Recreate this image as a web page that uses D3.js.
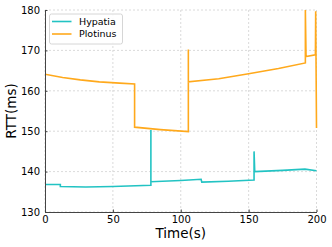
<!DOCTYPE html>
<html>
<head>
<meta charset="utf-8">
<script src="https://cdn.jsdelivr.net/npm/d3@7"></script>
<style>
  body { margin: 0; background: #fff; }
  text { font-family: "DejaVu Sans", sans-serif; fill: #000; }
</style>
</head>
<body>
<div id="chart"></div>
<script>
// values (time in s, rtt in ms)
const hypatiaTime = [0, 11.3, 11.3, 30, 50, 78, 78, 78, 100, 115, 115.5, 135, 154, 154, 154.5, 175, 191.5, 200];
const hypatiaRtt  = [136.8, 136.8, 136.3, 136.2, 136.3, 136.6, 150.3, 137.5, 137.8, 138.1, 137.4, 137.6, 137.9, 145, 140.0, 140.3, 140.6, 140.2];

const plotinusTime = [0, 13, 26, 40, 55, 66, 66, 85, 105.6, 105.6, 105.6, 128, 150, 172, 191.8, 191.8, 192.3, 199.2, 199.4, 200];
const plotinusRtt  = [164.1, 163.3, 162.7, 162.2, 161.9, 161.7, 151.0, 150.4, 149.9, 170.2, 162.2, 163.0, 164.2, 165.5, 166.9, 180, 168.5, 168.9, 179.7, 150.8];

const seriesNames = ["Hypatia", "Plotinus"];
const seriesColors = ["#22c3c3", "#ffa91c"];
const xTicks = [0, 50, 100, 150, 200];
const yTicks = [130, 140, 150, 160, 170, 180];

const width = 332, height = 247;
const margin = {left: 45, right: 15.5, top: 10, bottom: 35};

const x = d3.scaleLinear().domain([0, 200]).range([margin.left, width - margin.right]);
const y = d3.scaleLinear().domain([130, 180]).range([height - margin.bottom, margin.top]);

const svg = d3.select("#chart").append("svg")
  .attr("width", width)
  .attr("height", height);

// grid
svg.append("g")
  .selectAll("line.v")
  .data(xTicks)
  .join("line")
  .attr("x1", d => x(d)).attr("x2", d => x(d))
  .attr("y1", y(130)).attr("y2", y(180))
  .attr("stroke", "#d0d0d0")
  .attr("stroke-width", 0.8)
  .attr("stroke-dasharray", "2,2");

svg.append("g")
  .selectAll("line.h")
  .data(yTicks)
  .join("line")
  .attr("x1", x(0)).attr("x2", x(200))
  .attr("y1", d => y(d)).attr("y2", d => y(d))
  .attr("stroke", "#d0d0d0")
  .attr("stroke-width", 0.8)
  .attr("stroke-dasharray", "2,2");

svg.append("clipPath").attr("id", "clip")
  .append("rect")
  .attr("x", x(0)).attr("y", y(180) - 1)
  .attr("width", x(200) - x(0) + 2).attr("height", y(130) - y(180) + 1);

const line = d3.line().x(d => x(d[0])).y(d => y(d[1]));

const series = [
  d3.zip(hypatiaTime, hypatiaRtt),
  d3.zip(plotinusTime, plotinusRtt)
];

svg.append("g")
  .attr("clip-path", "url(#clip)")
  .selectAll("path")
  .data(series)
  .join("path")
  .attr("d", line)
  .attr("fill", "none")
  .attr("stroke", (d, i) => seriesColors[i])
  .attr("stroke-width", 1.6)
  .attr("stroke-linejoin", "miter");

// axes
const xAxis = svg.append("g")
  .attr("transform", `translate(0,${y(130)})`)
  .call(d3.axisBottom(x).tickValues(xTicks).tickSizeInner(-2.5).tickSizeOuter(0).tickPadding(3.5));
const yAxis = svg.append("g")
  .attr("transform", `translate(${x(0)},0)`)
  .call(d3.axisLeft(y).tickValues(yTicks).tickSizeInner(-2.5).tickSizeOuter(0).tickPadding(5));

for (const ax of [xAxis, yAxis]) {
  ax.select(".domain").attr("stroke", "#444").attr("stroke-width", 1);
  ax.selectAll(".tick line").attr("stroke", "#444");
  ax.selectAll(".tick text").attr("font-size", 10).attr("fill", "#000");
}

svg.append("text")
  .attr("x", (x(0) + x(200)) / 2)
  .attr("y", 238)
  .attr("text-anchor", "middle")
  .attr("font-size", 13.5)
  .text("Time(s)");

svg.append("text")
  .attr("transform", `translate(16,${(y(130) + y(180)) / 2}) rotate(-90)`)
  .attr("text-anchor", "middle")
  .attr("font-size", 13.5)
  .text("RTT(ms)");

// legend
const legend = svg.append("g").attr("transform", "translate(49.5,14)");
legend.append("rect")
  .attr("width", 73).attr("height", 30)
  .attr("rx", 2)
  .attr("fill", "#fff")
  .attr("fill-opacity", 0.85)
  .attr("stroke", "#ccc")
  .attr("stroke-width", 0.8);

const item = legend.selectAll("g.item")
  .data(seriesNames)
  .join("g")
  .attr("transform", (d, i) => `translate(0,${7.5 + i * 12.5})`);
item.append("line")
  .attr("x1", 2.5).attr("x2", 22)
  .attr("stroke", (d, i) => seriesColors[i])
  .attr("stroke-width", 1.6);
item.append("text")
  .attr("x", 29.5)
  .attr("dy", "0.35em")
  .attr("font-size", 9.5)
  .text(d => d);
</script>
</body>
</html>
